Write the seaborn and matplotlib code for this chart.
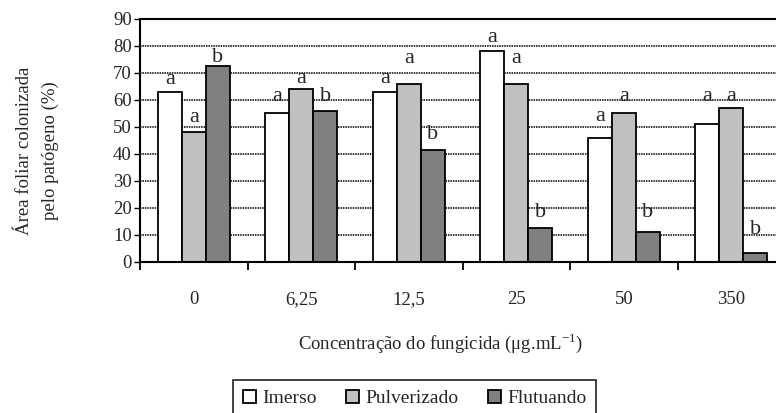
import matplotlib
matplotlib.use("Agg")
import matplotlib.pyplot as plt
import seaborn as sns
import pandas as pd
from matplotlib.patches import Patch

# data
concentracoes = ["0", "6,25", "12,5", "25", "50", "350"]
metodos = ["Imerso", "Pulverizado", "Flutuando"]
imerso = [63, 55, 63, 78, 46, 51]
pulverizado = [48, 64, 66, 66, 55, 57]
flutuando = [72.5, 56, 41.5, 12.5, 11, 3.5]

# letras de significancia (por metodo) e altura em que aparecem
letras_imerso = ["a", "a", "a", "a", "a", "a"]
letras_pulverizado = ["a", "a", "a", "a", "a", "a"]
letras_flutuando = ["b", "b", "b", "b", "b", "b"]
altura_imerso = [67.5, 61.4, 67.9, 83, 54, 61.4]
altura_pulverizado = [53.7, 67.9, 75.2, 75.2, 61.4, 61.4]
altura_flutuando = [75.6, 61.4, 47.2, 18.5, 18.5, 12]

cores = ["#ffffff", "#c0c0c0", "#808080"]

df = pd.DataFrame({
    "conc": concentracoes * 3,
    "metodo": [m for m in metodos for _ in concentracoes],
    "valor": imerso + pulverizado + flutuando,
})

sns.set_style("white")
plt.rcParams["font.family"] = ["Liberation Serif", "DejaVu Serif"]
plt.rcParams["mathtext.fontset"] = "custom"
plt.rcParams["mathtext.rm"] = "Liberation Serif"

fig = plt.figure(figsize=(7.76, 4.13), dpi=100)
ax = fig.add_axes([140 / 776, 1 - 262 / 413, 645 / 776, 243 / 413])

sns.barplot(data=df, x="conc", y="valor", hue="metodo", order=concentracoes,
            hue_order=metodos, palette=cores, width=0.67, gap=0,
            edgecolor="black", linewidth=1.3, saturation=1, ax=ax, legend=False)

ax.set_ylim(0, 90)
ax.set_xlim(-0.5, 5.5)
ax.set_yticks(range(0, 91, 10))
ax.yaxis.grid(True, color="black", linestyle=(0, (1, 0.6)), linewidth=1.1)
ax.set_axisbelow(True)
for s in ["left", "bottom", "top"]:
    ax.spines[s].set_color("black")
    ax.spines[s].set_linewidth(1.5)
ax.spines["right"].set_visible(False)

ax.tick_params(axis="y", direction="out", length=4, width=1, color="black",
               labelsize=13.5, pad=2, left=True)
ax.tick_params(axis="x", which="major", length=0, labelsize=13.5, pad=21)
ax.set_xticks([i + 0.5 for i in range(-1, 6)], minor=True)
ax.tick_params(axis="x", which="minor", direction="out", length=6, width=1.3,
               color="black", bottom=True)
ax.set_xlabel("")
ax.set_ylabel("")

# letras acima das barras
letras = [letras_imerso, letras_pulverizado, letras_flutuando]
alturas = [altura_imerso, altura_pulverizado, altura_flutuando]
for cont, lts, alts in zip(ax.containers, letras, alturas):
    for barra, lt, y in zip(cont, lts, alts):
        ax.text(barra.get_x() + barra.get_width() / 2, y, lt, ha="center",
                va="center", fontsize=16, clip_on=False)

fig.text(441 / 776, 1 - 343 / 413,
         r"Concentração do fungicida (μg.mL$^{\mathregular{-1}}$)",
         ha="center", va="center", fontsize=13.5)
fig.text(25 / 776, 1 - 151 / 413, "Área foliar colonizada", rotation=90,
         ha="center", va="center", fontsize=13.5)
fig.text(50 / 776, 1 - 151 / 413, "pelo patógeno (%)", rotation=90,
         ha="center", va="center", fontsize=13.5)

handles = [Patch(facecolor=c, edgecolor="black", linewidth=1.3) for c in cores]
leg = fig.legend(handles, metodos, loc="upper left",
                 bbox_to_anchor=(233 / 776, 1 - 380 / 413), ncol=3,
                 fontsize=14, frameon=True, fancybox=False, shadow=False,
                 handlelength=0.7, handleheight=0.7, handletextpad=0.3,
                 columnspacing=1.5, borderpad=0.5, borderaxespad=0)
leg.get_frame().set_edgecolor("black")
leg.get_frame().set_linewidth(1.3)

plt.savefig("out.png", dpi=100)
